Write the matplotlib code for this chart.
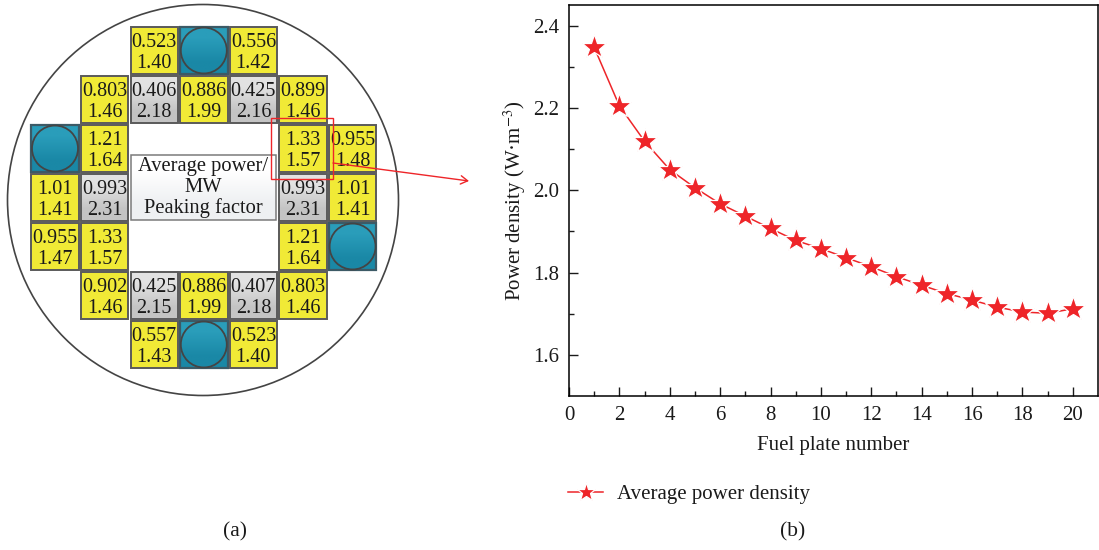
import numpy as np
import matplotlib
matplotlib.use("Agg")
import matplotlib.pyplot as plt
from matplotlib.patches import Rectangle, Circle

plt.rcParams['font.family'] = ['Liberation Serif', 'DejaVu Serif']
plt.rcParams['mathtext.fontset'] = 'stix'

# core map, row by row (None = no cell, "rod" = control rod)
power_rows = [
    [None, None, "0.523", "rod", "0.556", None, None],
    [None, "0.803", "0.406", "0.886", "0.425", "0.899", None],
    ["rod", "1.21", None, None, None, "1.33", "0.955"],
    ["1.01", "0.993", None, None, None, "0.993", "1.01"],
    ["0.955", "1.33", None, None, None, "1.21", "rod"],
    [None, "0.902", "0.425", "0.886", "0.407", "0.803", None],
    [None, None, "0.557", "rod", "0.523", None, None],
]
peaking_rows = [
    [None, None, "1.40", None, "1.42", None, None],
    [None, "1.46", "2.18", "1.99", "2.16", "1.46", None],
    [None, "1.64", None, None, None, "1.57", "1.48"],
    ["1.41", "2.31", None, None, None, "2.31", "1.41"],
    ["1.47", "1.57", None, None, None, "1.64", None],
    [None, "1.46", "2.15", "1.99", "2.18", "1.46", None],
    [None, None, "1.43", None, "1.40", None, None],
]
gray_cells = ["0.406", "0.425", "0.407", "0.993"]
center_labels = ["Average power/", "MW", "Peaking factor"]

plate_number = list(range(1, 21))
power_density = [2.347, 2.205, 2.119, 2.050, 2.006, 1.967, 1.937, 1.907, 1.878, 1.858,
                 1.836, 1.814, 1.790, 1.769, 1.749, 1.733, 1.716, 1.704, 1.701, 1.712]

RED = '#ee2529'
TXT = '#1a1a1a'
FS = 14.5
FS_AXIS = 15


def gradient(ax, x0, x1, y0, y1, c_top, c_bottom, z):
    # vertical gradient fill of a cell
    c = np.array([matplotlib.colors.to_rgb(c_top), matplotlib.colors.to_rgb(c_bottom)])
    ax.imshow(c.reshape(2, 1, 3), extent=(x0, x1, y1, y0), aspect='auto',
              interpolation='bilinear', zorder=z)


fig = plt.figure(figsize=(10.99, 5.5), dpi=100)

# left panel is drawn in pixel units of the figure
left = fig.add_axes([0, 0, 1, 1])
left.set_xlim(0, 1099)
left.set_ylim(550, 0)
left.axis('off')

left.add_patch(Circle((203, 200), 195.5, fc='white', ec='#444444', lw=1.2, zorder=1))

half = 23.7
for r, row in enumerate(power_rows):
    cy = 50.5 + 49 * r
    for c, val in enumerate(row):
        if val is None:
            continue
        cx = 55 + 49.6 * c
        x0, x1, y0, y1 = cx - half, cx + half, cy - half, cy + half
        if val == "rod":
            gradient(left, x0, x1, y0, y1, '#2a9dba', '#1a88a6', 2)
            left.add_patch(Rectangle((x0, y0), 2 * half, 2 * half, fc='none', ec='#3c5a66', lw=1.6, zorder=3))
            left.add_patch(Circle((cx, cy), 23, fc='none', ec='#444444', lw=1.3, zorder=4))
            continue
        if val in gray_cells:
            gradient(left, x0, x1, y0, y1, '#e2e2e2', '#c4c4c4', 2)
        else:
            left.add_patch(Rectangle((x0, y0), 2 * half, 2 * half, fc='#f1ea36', ec='none', zorder=2))
        left.add_patch(Rectangle((x0, y0), 2 * half, 2 * half, fc='none', ec='#5a5a5a', lw=1.4, zorder=3))
        left.text(cx, cy - 8, val, fontsize=FS, color=TXT, ha='center', va='center', zorder=5)
        left.text(cx, cy + 13, peaking_rows[r][c], fontsize=FS, color=TXT, ha='center', va='center', zorder=5)

# center label box
gradient(left, 131, 276, 155, 220, '#ffffff', '#eef0f2', 2)
left.add_patch(Rectangle((131, 155), 145, 65, fc='none', ec='#7a7a7a', lw=1.1, zorder=3))
center_y = [166, 187, 208]
for t, y in zip(center_labels, center_y):
    left.text(203.5, y, t, fontsize=14.8, color=TXT, ha='center', va='center', zorder=5)

# zoom rectangle + arrow to panel (b)
left.add_patch(Rectangle((271, 118), 62, 61, fc='none', ec=RED, lw=1.0, zorder=6))
left.annotate('', xy=(469, 181), xytext=(333, 163), zorder=6,
              arrowprops=dict(arrowstyle='->,head_length=0.5,head_width=0.3', color=RED, lw=1.0,
                              shrinkA=0, shrinkB=0))

left.set_xlim(0, 1099)
left.set_ylim(550, 0)
left.text(235, 532, '(a)', fontsize=15.5, color=TXT, ha='center', va='center')
left.text(793, 532, '(b)', fontsize=15.5, color=TXT, ha='center', va='center')

# right panel
ax = fig.add_axes([569 / 1099, (550 - 396) / 550, (1098 - 569) / 1099, (396 - 5) / 550])
ax.patch.set_alpha(0)
line, = ax.plot(plate_number, power_density, color=RED, lw=1.1, marker='*', ms=18.5,
                mfc=RED, mec='white', mew=0.9, label='Average power density')
ax.set_xlim(0, 21)
ax.set_ylim(1.5, 2.45)
ax.set_xticks(range(0, 21, 2))
ax.set_xticks(range(1, 20, 2), minor=True)
ax.set_yticks([1.6, 1.8, 2.0, 2.2, 2.4])
ax.set_yticks([1.7, 1.9, 2.1, 2.3], minor=True)
ax.set_yticklabels(['1.6', '1.8', '2.0', '2.2', '2.4'])
ax.tick_params(which='major', direction='in', length=6.5, width=1, labelsize=FS_AXIS, colors=TXT, pad=7)
ax.tick_params(which='minor', direction='in', length=3.5, width=1, colors=TXT)
ax.set_xlabel('Fuel plate number', fontsize=FS_AXIS, color=TXT, labelpad=8)
ax.set_ylabel('Power density (W·m$^{-3}$)', fontsize=FS_AXIS, color=TXT, labelpad=4)
for s in ax.spines.values():
    s.set_linewidth(1.1)

fig.legend(handles=[line], loc='center left', bbox_to_anchor=(568 / 1099, 1 - 494 / 550), frameon=False,
           fontsize=FS_AXIS, labelcolor=TXT, handlelength=1.7, handletextpad=0.65, borderpad=0,
           borderaxespad=0, markerscale=0.75)

fig.savefig('out.png', dpi=100)
